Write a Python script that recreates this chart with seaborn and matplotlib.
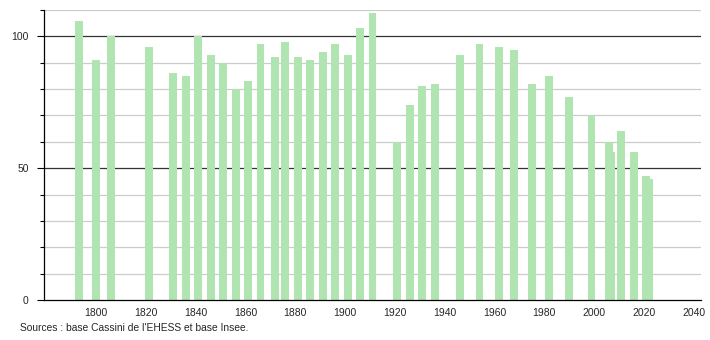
import matplotlib
matplotlib.use("Agg")
import matplotlib.pyplot as plt
import seaborn as sns
import pandas as pd

years = [1793, 1800, 1806, 1821, 1831, 1836, 1841, 1846, 1851, 1856, 1861, 1866,
         1872, 1876, 1881, 1886, 1891, 1896, 1901, 1906, 1911, 1921, 1926, 1931,
         1936, 1946, 1954, 1962, 1968, 1975, 1982, 1990, 1999, 2006, 2007, 2011,
         2016, 2021, 2022]
population = [106, 91, 100, 96, 86, 85, 100, 93, 90, 80, 83, 97,
              92, 98, 92, 91, 94, 97, 93, 103, 109, 60, 74, 81,
              82, 93, 97, 96, 95, 82, 85, 77, 70, 60, 56, 64,
              56, 47, 46]
y_ticks = [0, 50, 100]
x_ticks = list(range(1800, 2041, 20))
source_text = "Sources : base Cassini de l'EHESS et base Insee."

sns.set_style("white")
plt.rcParams['font.family'] = ['Liberation Sans', 'DejaVu Sans']

df = pd.DataFrame({"year": years, "pop": population}).iloc[::-1]

fig = plt.figure(figsize=(7.1, 3.4), dpi=100)
ax = fig.add_axes([44 / 710, 40 / 340, (701 - 44) / 710, 290 / 340])

# grid lines
for v in range(10, 111, 10):
    if v in (50, 100):
        ax.axhline(v, color="#333333", lw=0.9, zorder=0)
    else:
        ax.axhline(v, color="#cccccc", lw=0.9, zorder=0)

sns.barplot(data=df, x="year", y="pop", native_scale=True, color="#b0e4b0",
            saturation=1, width=3.2, ax=ax, zorder=2, errorbar=None)
for p in ax.patches:
    p.set_edgecolor("none")

ax.set_xlim(1779, 2043)
ax.set_ylim(0, 110)
ax.set_xlabel("")
ax.set_ylabel("")
ax.set_xticks(x_ticks)
ax.set_xticklabels([str(x) for x in x_ticks], fontsize=7.5)
ax.set_yticks(y_ticks)
ax.set_yticklabels([str(y) for y in y_ticks], fontsize=7.5)
ax.set_yticks(range(0, 111, 10), minor=True)
ax.tick_params(axis="x", length=0, pad=6)
ax.tick_params(axis="y", which="major", length=5, width=0.8, color="black", pad=6, left=True)
ax.tick_params(axis="y", which="minor", length=3, width=0.8, color="black", left=True)

for s in ("top", "right"):
    ax.spines[s].set_visible(False)
for s in ("left", "bottom"):
    ax.spines[s].set_color("black")
    ax.spines[s].set_linewidth(0.9)

fig.text(20 / 710, 1 - 328 / 340, source_text, fontsize=7.4, va="center", ha="left")

fig.savefig("out.png", dpi=100)
